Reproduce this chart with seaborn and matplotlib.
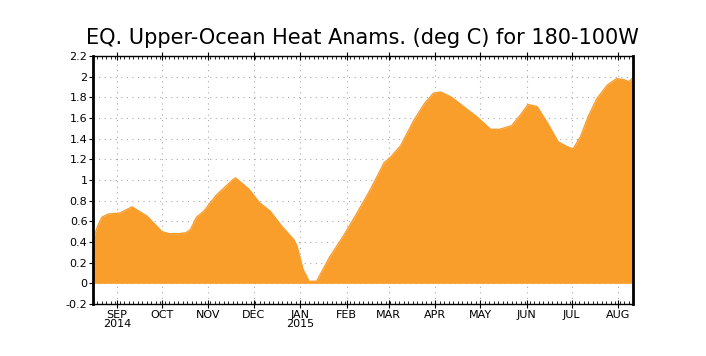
import numpy as np
import pandas as pd
import matplotlib
matplotlib.use("Agg")
import matplotlib.pyplot as plt
import seaborn as sns

# upper-ocean heat content anomaly
dates = ["2014-08-16", "2014-08-19", "2014-08-22", "2014-08-26", "2014-09-03", "2014-09-11",
         "2014-09-21", "2014-10-01", "2014-10-06", "2014-10-12", "2014-10-17", "2014-10-20",
         "2014-10-24", "2014-10-29", "2014-11-06", "2014-11-17", "2014-11-19", "2014-11-28",
         "2014-12-05", "2014-12-12", "2014-12-20", "2014-12-28", "2014-12-30", "2015-01-03",
         "2015-01-07", "2015-01-12", "2015-01-21", "2015-01-30", "2015-02-08", "2015-02-17",
         "2015-02-26", "2015-03-03", "2015-03-09", "2015-03-18", "2015-03-25", "2015-03-31",
         "2015-04-05", "2015-04-12", "2015-04-20", "2015-04-29", "2015-05-08", "2015-05-14",
         "2015-05-22", "2015-05-28", "2015-06-02", "2015-06-08", "2015-06-15", "2015-06-22",
         "2015-06-27", "2015-07-02", "2015-07-07", "2015-07-12", "2015-07-18", "2015-07-25",
         "2015-07-31", "2015-08-05", "2015-08-08", "2015-08-11"]
anom = [0.42, 0.55, 0.64, 0.67, 0.68, 0.74,
        0.65, 0.50, 0.48, 0.48, 0.49, 0.52,
        0.64, 0.70, 0.85, 1.00, 1.02, 0.91,
        0.78, 0.70, 0.55, 0.42, 0.36, 0.135,
        0.02, 0.02, 0.26, 0.46, 0.68, 0.91,
        1.165, 1.23, 1.33, 1.58, 1.74, 1.84,
        1.85, 1.80, 1.71, 1.61, 1.49, 1.49,
        1.525, 1.63, 1.73, 1.71, 1.55, 1.37,
        1.33, 1.30, 1.42, 1.61, 1.79, 1.92,
        1.98, 1.97, 1.95, 1.99]

month_ticks = ["2014-09-01", "2014-10-01", "2014-11-01", "2014-12-01", "2015-01-01", "2015-02-01",
               "2015-03-01", "2015-04-01", "2015-05-01", "2015-06-01", "2015-07-01", "2015-08-01"]
month_labels = ["SEP\n2014", "OCT", "NOV", "DEC", "JAN\n2015", "FEB",
                "MAR", "APR", "MAY", "JUN", "JUL", "AUG"]
y_ticks = [-0.2, 0, 0.2, 0.4, 0.6, 0.8, 1, 1.2, 1.4, 1.6, 1.8, 2, 2.2]

df = pd.DataFrame({"date": pd.to_datetime(dates), "anom": anom})
orange = "#F99D2B"

sns.set_style("white")
fig = plt.figure(figsize=(7.06, 3.56), dpi=100)
ax = fig.add_axes([0.1317, 0.146, 0.765, 0.697])

ax.fill_between(df["date"], 0, df["anom"], color=orange, lw=0, zorder=2)
sns.lineplot(data=df, x="date", y="anom", color=orange, lw=1, ax=ax, zorder=3)

ax.set_xlim(pd.Timestamp("2014-08-16"), pd.Timestamp("2015-08-11"))
ax.set_ylim(-0.2, 2.2)

ax.set_xticks(pd.to_datetime(month_ticks))
ax.set_xticklabels(month_labels, fontsize=8, linespacing=0.9, color="black")
ax.set_yticks(y_ticks)
ax.set_yticklabels([f"{v:g}" for v in y_ticks], fontsize=8, color="black")
# small ticks every 3 days along top and bottom edges
minor_days = pd.date_range("2014-08-16", "2015-08-11", freq="3D")
ax.set_xticks(minor_days, minor=True)

ax.grid(True, which="major", color="#aaaaaa", linestyle=(0, (1, 4)), lw=0.8, zorder=1)
ax.tick_params(axis="x", which="major", direction="inout", length=6, width=0.8, pad=1,
               bottom=True, top=True, color="black")
ax.tick_params(axis="x", which="minor", direction="in", length=2.5, width=0.6,
               bottom=True, top=True, color="black")
ax.tick_params(axis="y", which="major", direction="out", length=3, width=0.8, pad=1,
               left=True, color="black")

for side in ["top", "bottom"]:
    ax.spines[side].set_linewidth(1.0)
for side in ["left", "right"]:
    ax.spines[side].set_linewidth(2.0)
for s in ax.spines.values():
    s.set_color("black")
    s.set_zorder(5)

ax.set_xlabel("")
ax.set_ylabel("")
fig.text(0.514, 0.865, "EQ. Upper-Ocean Heat Anams. (deg C) for 180-100W",
         ha="center", va="bottom", fontsize=15, color="black")

fig.savefig("out.png", dpi=100)
